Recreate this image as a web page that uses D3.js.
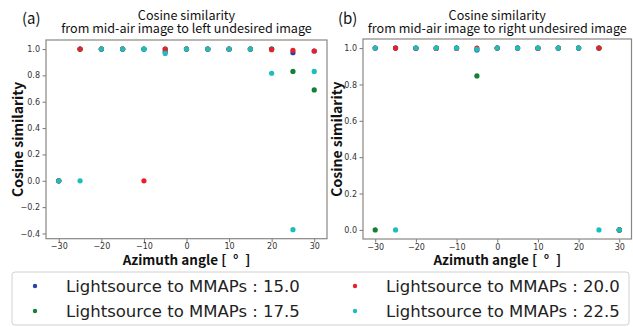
<!DOCTYPE html>
<html><head><meta charset="utf-8">
<script src="https://cdn.jsdelivr.net/npm/d3@7"></script>
<style>
html,body{margin:0;padding:0;background:#fff;}
svg{display:block;}
</style></head>
<body>
<svg id="chart" width="633" height="327"></svg>
<script>
// ---- data ----
const angles = [-30,-25,-20,-15,-10,-5,0,5,10,15,20,25,30];
const seriesNames = ["Lightsource to MMAPs : 15.0","Lightsource to MMAPs : 17.5","Lightsource to MMAPs : 20.0","Lightsource to MMAPs : 22.5"];
const seriesColors = ["#2444aa","#138032","#e8202a","#1dbdbd"];
// panel (a): mid-air -> left undesired image
const left15   = [0, 1.0, 1.0, 1.0, 1.0, 0.98, 1.0, 1.0, 1.0, 1.0, 1.0, 0.972, 0.985];
const left17_5 = [0, 1.0, 1.0, 1.0, 1.0, 1.0, 1.0, 1.0, 1.0, 1.0, 1.0, 0.83, 0.69];
const left20   = [0, 1.0, 1.0, 1.0, 0.0, 1.0, 1.0, 1.0, 1.0, 1.0, 0.995, 0.99, 0.985];
const left22_5 = [0, 0, 1.0, 1.0, 1.0, 0.967, 1.0, 1.0, 1.0, 1.0, 0.816, -0.371, 0.83];
// panel (b): mid-air -> right undesired image
const right15   = [1.0, 1.0, 1.0, 1.0, 1.0, 0.99, 1.0, 1.0, 1.0, 1.0, 1.0, 1.0, 0];
const right17_5 = [0, 1.0, 1.0, 1.0, 1.0, 0.847, 1.0, 1.0, 1.0, 1.0, 1.0, 1.0, 0];
const right20   = [1.0, 1.0, 0.998, 0.998, 0.998, 1.0, 1.0, 1.0, 0.998, 1.0, 1.0, 1.0, 0];
const right22_5 = [1.0, 0, 1.0, 1.0, 1.0, 0.993, 1.0, 1.0, 1.0, 1.0, 1.0, 0, 0];
const xTicks = [-30,-20,-10,0,10,20,30];
const yTicksA = [-0.4,-0.2,0.0,0.2,0.4,0.6,0.8,1.0];
const yTicksB = [0.0,0.2,0.4,0.6,0.8,1.0];

const svg = d3.select("#chart");
const CJK = "'Noto Sans CJK JP','Noto Sans',sans-serif";
const DV = "'DejaVu Sans',sans-serif";

function pad(ext){ const r = ext[1]-ext[0]; return [ext[0]-0.05*r, ext[1]+0.05*r]; }

function panel(o){
  const all = o.series.flat();
  const x = d3.scaleLinear().domain(pad(d3.extent(angles))).range([o.x0,o.x1]);
  const y = d3.scaleLinear().domain(pad(d3.extent(all))).range([o.y1,o.y0]);
  const g = svg.append("g");

  // axes
  const xa = g.append("g").attr("transform",`translate(0,${o.y1})`)
    .call(d3.axisBottom(x).tickValues(xTicks).tickSize(3.5).tickPadding(1.5).tickFormat(d3.format("d")));
  const ya = g.append("g").attr("transform",`translate(${o.x0},0)`)
    .call(d3.axisLeft(y).tickValues(o.yTicks).tickSize(3.5).tickPadding(2.5).tickFormat(d3.format(".1f")));
  [xa,ya].forEach(a=>{
    a.select(".domain").remove();
    a.selectAll(".tick line").attr("stroke","#555").attr("stroke-width",0.8);
    a.selectAll(".tick text").attr("font-family",DV).attr("font-size","8px").attr("fill","#333");
  });
  // frame
  g.append("rect").attr("x",o.x0).attr("y",o.y0).attr("width",o.x1-o.x0).attr("height",o.y1-o.y0)
    .attr("fill","none").attr("stroke","#8a8680").attr("stroke-width",1.2);

  // points
  o.series.forEach((vals,i)=>{
    g.append("g").selectAll("circle").data(vals).join("circle")
      .attr("cx",(d,j)=>x(angles[j])).attr("cy",d=>y(d)).attr("r",2.6)
      .attr("fill",seriesColors[i]);
  });

  const cx = (o.x0+o.x1)/2;
  // titles
  g.append("text").attr("x",cx).attr("y",19.5).attr("text-anchor","middle")
    .attr("font-family",CJK).attr("font-size","12.6px").attr("fill","#111").text("Cosine similarity");
  g.append("text").attr("x",cx).attr("y",33).attr("text-anchor","middle")
    .attr("font-family",CJK).attr("font-size","12.6px").attr("fill","#111").text(o.subtitle);
  g.append("text").attr("x",o.labX).attr("y",24).attr("font-family",CJK).attr("font-size","15px").attr("fill","#111").text(o.label);
  // axis labels
  g.append("text").attr("x",cx).attr("y",265).attr("text-anchor","middle")
    .attr("font-family",CJK).attr("font-size","13.5px").attr("font-weight",700).attr("fill","#111").text("Azimuth angle [\u2002°\u2002]");
  g.append("text").attr("transform",`translate(${o.yLabX},${(o.y0+o.y1)/2}) rotate(-90)`).attr("text-anchor","middle")
    .attr("font-family",CJK).attr("font-size","14px").attr("font-weight",700).attr("fill","#111").text("Cosine similarity");
}

panel({x0:46,x1:327,y0:40,y1:238.7,yTicks:yTicksA,series:[left15,left17_5,left20,left22_5],
  subtitle:"from mid-air image to left undesired image",label:"(a)",labX:22,yLabX:23});
panel({x0:363,x1:631.5,y0:39,y1:239,yTicks:yTicksB,series:[right15,right17_5,right20,right22_5],
  subtitle:"from mid-air image to right undesired image",label:"(b)",labX:338,yLabX:342});

// legend
const lg = svg.append("g");
lg.append("rect").attr("x",12).attr("y",272).attr("width",617).attr("height",53).attr("rx",3)
  .attr("fill","#fff").attr("stroke","#d0d0d0").attr("stroke-width",1);
const legendPos = [[35,286],[35,311],[355,286],[355,311]];
seriesNames.forEach((n,i)=>{
  const [lx,ly] = legendPos[i];
  lg.append("circle").attr("cx",lx).attr("cy",ly).attr("r",2.2).attr("fill",seriesColors[i]);
  lg.append("text").attr("x",lx+31).attr("y",ly+6).attr("font-family",DV).attr("font-size","16.5px").attr("fill","#222").text(n);
});
</script>
</body></html>
